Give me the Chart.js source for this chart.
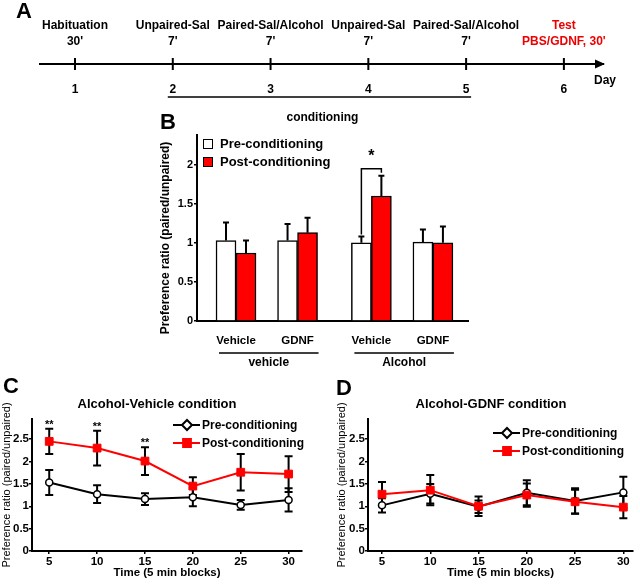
<!DOCTYPE html>
<html>
<head>
<meta charset="utf-8">
<script src="https://cdn.jsdelivr.net/npm/chart.js@4.4.1/dist/chart.umd.min.js"></script>
<style>
  body { margin: 0; background: #fff; }
  #page { position: relative; width: 640px; height: 584px; overflow: hidden; font-family: "Liberation Sans", Arial, sans-serif; }
  #page canvas { position: absolute; }
  .lbl { position: absolute; font-weight: bold; font-size: 22px; line-height: 1; white-space: nowrap; }
  .ttl { position: absolute; width: 220px; font-weight: bold; font-size: 13px; line-height: 16px; text-align: center; white-space: nowrap; }
</style>
</head>
<body>
<div id="page">
  <canvas id="chartA" width="640" height="130" style="left:0;top:0"></canvas>
  <canvas id="chartB" width="330" height="270" style="left:150px;top:110px"></canvas>
  <canvas id="chartC" width="320" height="199" style="left:0;top:385px"></canvas>
  <canvas id="chartD" width="320" height="199" style="left:320px;top:385px"></canvas>

  <div class="lbl" style="left:16px;top:0">A</div>
  <div class="lbl" style="left:160px;top:111px">B</div>
  <div class="lbl" style="left:3px;top:375px">C</div>
  <div class="lbl" style="left:336px;top:377px">D</div>
  <div class="ttl" style="left:47px;top:396px">Alcohol-Vehicle condition</div>
  <div class="ttl" style="left:381px;top:396px">Alcohol-GDNF condition</div>
</div>

<script>
// A: protocol timeline
var days = [1, 2, 3, 4, 5, 6]
var phases = ['Habituation', 'Unpaired-Sal', 'Paired-Sal/Alcohol', 'Unpaired-Sal', 'Paired-Sal/Alcohol', 'Test']
var durations = ["30'", "7'", "7'", "7'", "7'", "PBS/GDNF, 30'"]
var conditioningDays = [2, 5]

// B: preference ratio bars
var treatments = ['Vehicle', 'GDNF', 'Vehicle', 'GDNF']
var groups = ['vehicle', 'Alcohol']
var preB = [1.03, 1.03, 1.00, 1.01]
var preErrB = [0.23, 0.21, 0.08, 0.16]
var postB = [0.87, 1.13, 1.60, 1.00]
var postErrB = [0.16, 0.19, 0.26, 0.21]
var sigB = ['', '', '*', '']

// C / D: time course
var times = [5, 10, 15, 20, 25, 30]
var preC = [1.53, 1.27, 1.16, 1.20, 1.03, 1.14]
var preErrC = [0.28, 0.20, 0.13, 0.20, 0.11, 0.26]
var postC = [2.45, 2.30, 2.01, 1.45, 1.76, 1.72]
var postErrC = [0.28, 0.39, 0.31, 0.20, 0.41, 0.40]
var starsC = ['**', '**', '**', '', '', '']
var preD = [1.02, 1.28, 0.99, 1.30, 1.12, 1.31]
var preErrD = [0.16, 0.22, 0.14, 0.28, 0.28, 0.35]
var postD = [1.27, 1.36, 1.00, 1.25, 1.10, 0.98]
var postErrD = [0.27, 0.34, 0.22, 0.26, 0.27, 0.25]

var FONT = '"Liberation Sans", Arial, sans-serif'
Chart.defaults.font.family = FONT
Chart.defaults.font.weight = 'bold'
Chart.defaults.color = '#000'

function fixSize(prop, px) {
    return function (scale) { scale[prop] = px }
}
function points(xs, ys) {
    return xs.map(function (x, i) { return { x: x, y: ys[i] } })
}
function plainNumber(v) { return String(v) }
// gap between the vehicle and alcohol groups in panel B
function groupX(i) { return i + (i >= 2 ? 0.2 : 0) }

//时间轴文字
var timelinePlugin = {
    id: 'timeline',
    afterDraw: function (chart) {
        var ctx = chart.ctx, x = chart.scales.x, area = chart.chartArea, y = area.bottom
        ctx.save()
        ctx.fillStyle = '#000'
        ctx.beginPath()
        ctx.moveTo(area.right + 2, y)
        ctx.lineTo(area.right - 8, y - 4.5)
        ctx.lineTo(area.right - 8, y + 4.5)
        ctx.closePath()
        ctx.fill()
        ctx.font = 'bold 12px ' + FONT
        ctx.textAlign = 'center'
        ctx.textBaseline = 'middle'
        days.forEach(function (d, i) {
            var px = x.getPixelForValue(d)
            ctx.fillStyle = i == days.length - 1 ? '#e00' : '#000'
            ctx.fillText(phases[i], px, y - 38)
            ctx.fillText(durations[i], px, y - 22)
        })
        ctx.fillStyle = '#000'
        ctx.fillText('Day', area.right + 2, y + 17)
        var x0 = x.getPixelForValue(conditioningDays[0]) - 5
        var x1 = x.getPixelForValue(conditioningDays[1]) + 5
        ctx.strokeStyle = '#000'
        ctx.lineWidth = 1.5
        ctx.beginPath()
        ctx.moveTo(x0, y + 33)
        ctx.lineTo(x1, y + 33)
        ctx.stroke()
        ctx.fillText('conditioning', (x0 + x1) / 2 + 3, y + 54)
        ctx.restore()
    }
}

//误差线
function drawErrors(chart, opts) {
    var ctx = chart.ctx, yScale = chart.scales.y
    ctx.save()
    ctx.strokeStyle = '#000'
    ctx.lineWidth = opts.width
    chart.data.datasets.forEach(function (ds, di) {
        var meta = chart.getDatasetMeta(di)
        meta.data.forEach(function (el, i) {
            var v = ds.data[i].y, e = ds.errors[i]
            var top = yScale.getPixelForValue(v + e)
            var bottom = opts.both ? yScale.getPixelForValue(v - e) : el.y
            ctx.beginPath()
            ctx.moveTo(el.x, bottom)
            ctx.lineTo(el.x, top)
            ctx.moveTo(el.x - opts.cap, top)
            ctx.lineTo(el.x + opts.cap, top)
            if (opts.both) {
                ctx.moveTo(el.x - opts.cap, bottom)
                ctx.lineTo(el.x + opts.cap, bottom)
            }
            ctx.stroke()
        })
    })
    ctx.restore()
}
var errorBarPlugin = {
    id: 'errorBars',
    beforeDatasetsDraw: function (chart, args, opts) { if (opts.under) drawErrors(chart, opts) },
    afterDatasetsDraw: function (chart, args, opts) { if (!opts.under) drawErrors(chart, opts) }
}

//B图: 分组下划线 + 显著性 + 纵轴标题
var groupPlugin = {
    id: 'groupLines',
    afterDraw: function (chart, args, opts) {
        var ctx = chart.ctx, x = chart.scales.x, y = chart.chartArea.bottom
        ctx.save()
        ctx.strokeStyle = '#000'
        ctx.fillStyle = '#000'
        ctx.lineWidth = 1.5
        ctx.font = 'bold 12px ' + FONT
        ctx.textAlign = 'center'
        ctx.textBaseline = 'middle'
        groups.forEach(function (g, k) {
            var a = x.getPixelForValue(groupX(2 * k)) - 17
            var b = x.getPixelForValue(groupX(2 * k + 1)) + 21
            ctx.beginPath()
            ctx.moveTo(a, y + 32)
            ctx.lineTo(b, y + 32)
            ctx.stroke()
            ctx.fillText(g, (a + b) / 2, y + 42)
        })
        // y title, a bit below the axis middle as in the original
        var area = chart.chartArea
        ctx.save()
        ctx.translate(opts.titleX, (area.top + area.bottom) / 2 + 10)
        ctx.rotate(-Math.PI / 2)
        ctx.fillText(opts.title, 0, 0)
        ctx.restore()
        // significance bracket
        var yScale = chart.scales.y
        var pre = chart.getDatasetMeta(0).data, post = chart.getDatasetMeta(1).data
        sigB.forEach(function (s, i) {
            if (!s) return
            var l = yScale.getPixelForValue(preB[i] + preErrB[i]) - 2
            var r = yScale.getPixelForValue(postB[i] + postErrB[i]) - 3
            var top = Math.min(l, r) - 4
            ctx.beginPath()
            ctx.moveTo(pre[i].x, l)
            ctx.lineTo(pre[i].x, top)
            ctx.lineTo(post[i].x, top)
            ctx.lineTo(post[i].x, r)
            ctx.stroke()
            ctx.font = 'bold 16px ' + FONT
            ctx.fillText(s, (pre[i].x + post[i].x) / 2, top - 12)
        })
        ctx.restore()
    }
}

var boxLegendPlugin = {
    id: 'boxLegend',
    afterDraw: function (chart, args, opts) {
        var ctx = chart.ctx
        ctx.save()
        ctx.font = 'bold 13px ' + FONT
        ctx.textBaseline = 'middle'
        chart.data.datasets.forEach(function (ds, i) {
            var y = opts.y + i * 18
            ctx.fillStyle = ds.backgroundColor
            ctx.fillRect(opts.x, y, 9, 9)
            ctx.strokeStyle = '#000'
            ctx.lineWidth = 1
            ctx.strokeRect(opts.x + 0.5, y + 0.5, 9, 9)
            ctx.fillStyle = '#000'
            ctx.fillText(ds.label, opts.x + 17, y + 5)
        })
        ctx.restore()
    }
}

var lineLegendPlugin = {
    id: 'lineLegend',
    afterDraw: function (chart, args, opts) {
        var ctx = chart.ctx
        ctx.save()
        ctx.font = 'bold 12px ' + FONT
        ctx.textBaseline = 'middle'
        chart.data.datasets.forEach(function (ds, i) {
            var y = opts.y + i * 18, x = opts.x
            ctx.strokeStyle = ds.borderColor
            ctx.lineWidth = 2
            ctx.beginPath()
            ctx.moveTo(x, y)
            ctx.lineTo(x + 27, y)
            ctx.stroke()
            ctx.fillStyle = ds.pointBackgroundColor
            ctx.strokeStyle = ds.pointBorderColor
            ctx.lineWidth = 2
            Chart.helpers.drawPoint(ctx, { pointStyle: ds.legendPointStyle, rotation: 0, radius: ds.legendRadius, borderWidth: 2 }, x + 14, y)
            ctx.fillStyle = '#000'
            ctx.fillText(ds.label, x + 29, y + 1)
        })
        ctx.restore()
    }
}

var starPlugin = {
    id: 'stars',
    afterDraw: function (chart, args, opts) {
        if (!opts.marks) return
        var ctx = chart.ctx, x = chart.scales.x, y = chart.scales.y
        var ds = chart.data.datasets[1]
        ctx.save()
        ctx.font = 'bold 11px ' + FONT
        ctx.textAlign = 'center'
        ctx.textBaseline = 'middle'
        ctx.fillStyle = '#000'
        opts.marks.forEach(function (m, i) {
            if (!m) return
            ctx.fillText(m, x.getPixelForValue(ds.data[i].x), y.getPixelForValue(ds.data[i].y + ds.errors[i]) - 4)
        })
        ctx.restore()
    }
}

var axisLine = { color: '#000', width: 2 }
var tickMarks = { drawOnChartArea: false, tickLength: 3, color: '#000', lineWidth: 1.5 }

// Panel A
new Chart(document.getElementById('chartA'), {
    type: 'scatter',
    data: {
        datasets: [{
            data: days.map(function (d) { return { x: d, y: 0 } }),
            pointStyle: 'line',
            pointRotation: 90,
            pointRadius: 6,
            pointBorderWidth: 2,
            pointBorderColor: '#000',
            clip: false
        }]
    },
    options: {
        responsive: false, animation: false, events: [],
        layout: { padding: { left: 40, right: 37, top: 50 } },
        plugins: { legend: { display: false }, tooltip: { enabled: false } },
        scales: {
            x: {
                type: 'linear', min: 0.642, max: 6.4,
                afterFit: fixSize('height', 66),
                afterBuildTicks: function (axis) { axis.ticks = days.map(function (d) { return { value: d } }) },
                grid: { display: false },
                border: axisLine,
                ticks: { padding: 10, font: { size: 12 }, callback: plainNumber }
            },
            y: { display: false, min: 0, max: 1 }
        }
    },
    plugins: [timelinePlugin]
})

// Panel B
new Chart(document.getElementById('chartB'), {
    type: 'bar',
    data: {
        datasets: [
            { label: 'Pre-conditioning', data: points(treatments.map(function (t, i) { return groupX(i) }), preB), errors: preErrB, backgroundColor: '#fff', borderColor: '#000', borderWidth: 1.5, barThickness: 20 },
            { label: 'Post-conditioning', data: points(treatments.map(function (t, i) { return groupX(i) }), postB), errors: postErrB, backgroundColor: '#f00', borderColor: '#000', borderWidth: 1.5, barThickness: 20 }
        ]
    },
    options: {
        responsive: false, animation: false, events: [],
        layout: { padding: { top: 25, right: 12 } },
        plugins: {
            legend: { display: false }, tooltip: { enabled: false },
            errorBars: { under: false, both: false, cap: 3, width: 2 },
            boxLegend: { x: 53, y: 29 },
            groupLines: { title: 'Preference ratio (paired/unpaired)', titleX: 16 }
        },
        scales: {
            x: {
                type: 'linear', min: -0.634, max: 3.77, offset: false,
                afterFit: fixSize('height', 59),
                afterBuildTicks: function (axis) { axis.ticks = treatments.map(function (t, i) { return { value: groupX(i) } }) },
                grid: { display: false },
                border: axisLine,
                ticks: { padding: 5, font: { size: 11.5 }, callback: function (v, i) { return treatments[i] } }
            },
            y: {
                min: 0, max: 2.38,
                afterFit: fixSize('width', 47),
                grid: tickMarks,
                border: axisLine,
                ticks: { stepSize: 0.5, includeBounds: false, padding: 1, font: { size: 11 }, callback: plainNumber }
            }
        }
    },
    plugins: [errorBarPlugin, groupPlugin, boxLegendPlugin]
})

// Panels C and D
function timeCourse(id, pre, preErr, post, postErr, o) {
    new Chart(document.getElementById(id), {
        type: 'line',
        data: {
            datasets: [
                { label: 'Pre-conditioning', data: points(times, pre), errors: preErr, borderColor: '#000', borderWidth: 2, tension: 0, pointStyle: 'circle', pointRadius: 3.5, pointBackgroundColor: '#fff', pointBorderColor: '#000', pointBorderWidth: 1.5, legendPointStyle: 'rectRot', legendRadius: 5, order: 1 },
                { label: 'Post-conditioning', data: points(times, post), errors: postErr, borderColor: '#f00', borderWidth: 2, tension: 0, pointStyle: 'rect', pointRadius: 5.5, pointBackgroundColor: '#f00', pointBorderColor: '#f00', pointBorderWidth: 1, legendPointStyle: 'rect', legendRadius: 5.5, order: 0 }
            ]
        },
        options: {
            responsive: false, animation: false, events: [],
            layout: { padding: { top: 34, right: o.right } },
            plugins: {
                legend: { display: false }, tooltip: { enabled: false },
                errorBars: { under: true, both: true, cap: 4, width: 2 },
                lineLegend: { x: o.legendX, y: o.legendY },
                stars: { marks: o.stars }
            },
            scales: {
                x: {
                    type: 'linear', min: o.xMin, max: o.xMax,
                    afterFit: fixSize('height', 33),
                    afterBuildTicks: function (axis) { axis.ticks = times.map(function (t) { return { value: t } }) },
                    grid: tickMarks,
                    border: axisLine,
                    ticks: { padding: 1, font: { size: 11.5 }, callback: plainNumber },
                    title: { display: true, text: 'Time (5 min blocks)', font: { size: 11.5, weight: 'bold' }, padding: { top: 0, bottom: 4 } }
                },
                y: {
                    min: 0, max: 2.95,
                    afterFit: fixSize('width', o.yWidth),
                    grid: tickMarks,
                    border: axisLine,
                    ticks: { stepSize: 0.5, includeBounds: false, padding: 0, font: { size: 11.5 }, callback: plainNumber },
                    title: { display: true, text: 'Preference ratio (paired/unpaired)', font: { size: 11, weight: 'normal' }, padding: { top: o.titlePad, bottom: 0 } }
                }
            }
        },
        plugins: [errorBarPlugin, lineLegendPlugin, starPlugin]
    })
}

timeCourse('chartC', preC, preErrC, postC, postErrC, { right: 18, yWidth: 32, xMin: 3.2, xMax: 31.4, titlePad: 0, legendX: 173, legendY: 40, stars: starsC })
timeCourse('chartD', preD, preErrD, postD, postErrD, { right: 7, yWidth: 48, xMin: 3.55, xMax: 31.0, titlePad: 15.4, legendX: 173, legendY: 48, stars: null })
</script>
</body>
</html>
